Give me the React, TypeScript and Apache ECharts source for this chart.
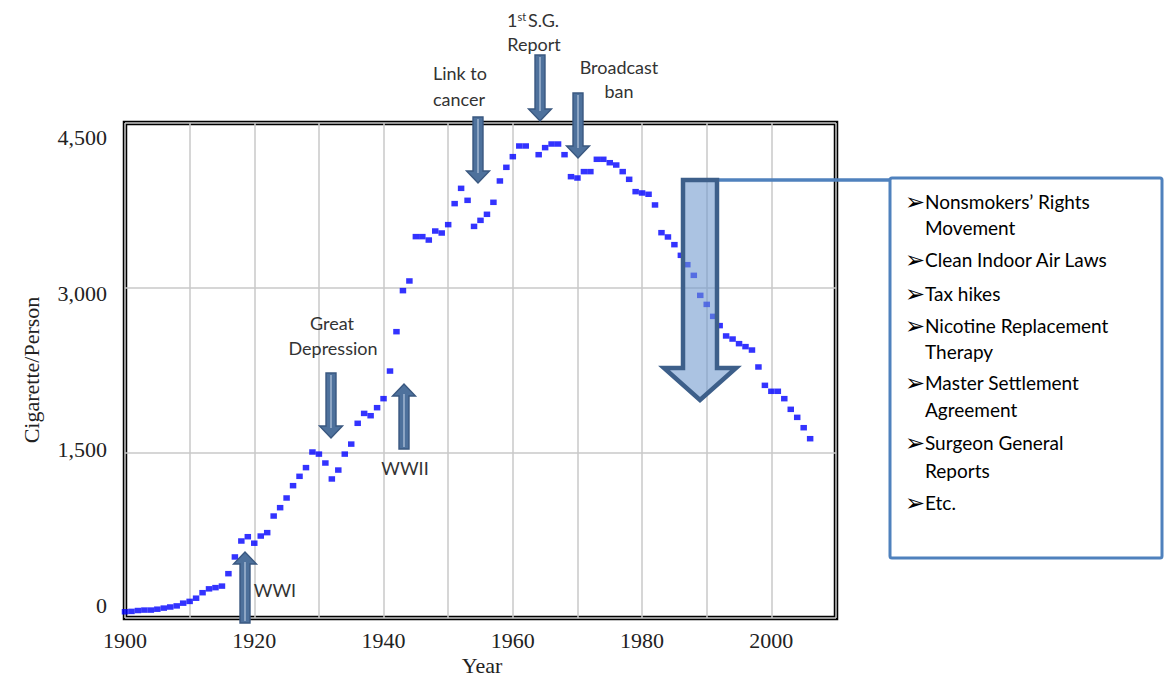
import React, { useEffect, useRef } from "react";
import * as echarts from "echarts";

// ---- data ----
const years: number[] = [
  1900, 1901, 1902, 1903, 1904, 1905, 1906, 1907, 1908, 1909,
  1910, 1911, 1912, 1913, 1914, 1915, 1916, 1917, 1918, 1919,
  1920, 1921, 1922, 1923, 1924, 1925, 1926, 1927, 1928, 1929,
  1930, 1931, 1932, 1933, 1934, 1935, 1936, 1937, 1938, 1939,
  1940, 1941, 1942, 1943, 1944, 1945, 1946, 1947, 1948, 1949,
  1950, 1951, 1952, 1953, 1954, 1955, 1956, 1957, 1958, 1959,
  1960, 1961, 1962, 1964, 1965, 1966, 1967, 1968, 1969,
  1970, 1971, 1972, 1973, 1974, 1975, 1976, 1977, 1978, 1979,
  1980, 1981, 1982, 1983, 1984, 1985, 1986, 1987, 1988, 1989,
  1990, 1991, 1992, 1993, 1994, 1995, 1996, 1997, 1998, 1999,
  2000, 2001, 2002, 2003, 2004, 2005, 2006,
];

const cigarettesPerPerson: number[] = [
  57, 60, 68, 72, 72, 80, 90, 100, 110, 135,
  151, 180, 230, 265, 276, 290, 403, 555, 700, 739,
  680, 745, 776, 927, 1003, 1091, 1203, 1288, 1367, 1509,
  1490, 1409, 1264, 1345, 1490, 1581, 1770, 1860, 1839, 1912,
  1994, 2245, 2603, 2976, 3064, 3467, 3467, 3436, 3518, 3500,
  3576, 3767, 3906, 3797, 3560, 3615, 3670, 3779, 3973, 4097,
  4194, 4291, 4291, 4212, 4276, 4309, 4309, 4212, 4012,
  4000, 4058, 4058, 4170, 4170, 4139, 4118, 4058, 3988, 3876,
  3864, 3852, 3755, 3503, 3464, 3394, 3297, 3212, 3115, 2933,
  2851, 2742, 2658, 2564, 2536, 2494, 2467, 2436, 2282, 2115,
  2061, 2061, 1994, 1897, 1824, 1730, 1630,
];

const xLabelYears: number[] = [1900, 1920, 1940, 1960, 1980, 2000];
const yTickValues: number[] = [0, 1500, 3000, 4500];
const yTickLabels: string[] = ["0", "1,500", "3,000", "4,500"];

const boxItems: string[][] = [
  ["Nonsmokers\u2019 Rights", "Movement"],
  ["Clean Indoor Air Laws"],
  ["Tax hikes"],
  ["Nicotine Replacement", "Therapy"],
  ["Master Settlement", "Agreement"],
  ["Surgeon General", "Reports"],
  ["Etc."],
];

// ---- drawing helpers ----
const SANS = "Lato, 'Open Sans', sans-serif";
const SERIF = "'Liberation Serif', 'DejaVu Serif', serif";

function txt(text: string, x: number, y: number, size: number, color: string, family = SANS, extra: any = {}) {
  return {
    type: "text",
    x,
    y,
    z: 20,
    silent: true,
    ...extra,
    style: {
      text,
      fill: color,
      fontSize: size,
      fontFamily: family,
      align: extra.align || "center",
      textAlign: extra.align || "center",
      verticalAlign: "middle",
      textVerticalAlign: "middle",
      ...(extra.style || {}),
    },
  };
}

function blockArrow(
  cx: number,
  tail: number,
  tip: number,
  shaftW: number,
  headW: number,
  headL: number,
  fill: string,
  stroke: string,
  lw: number,
  inner?: string
) {
  const dir = tip > tail ? 1 : -1;
  const base = tip - dir * headL;
  const pts = [
    [cx - shaftW / 2, tail],
    [cx + shaftW / 2, tail],
    [cx + shaftW / 2, base],
    [cx + headW / 2, base],
    [cx, tip],
    [cx - headW / 2, base],
    [cx - shaftW / 2, base],
  ];
  const els: any[] = [
    {
      type: "polygon",
      z: 15,
      silent: true,
      shape: { points: pts },
      style: { fill, stroke, lineWidth: lw, lineJoin: "miter" },
    },
  ];
  if (inner) {
    els.push({
      type: "line",
      z: 16,
      silent: true,
      shape: { x1: cx, y1: tail + dir * 2, x2: cx, y2: base + dir * 2 },
      style: { stroke: inner, lineWidth: 1.6 },
    });
  }
  return els;
}

const ARROW_FILL = "#4e719c";
const ARROW_STROKE = "#3a5880";
const ARROW_INNER = "#9db3cf";

function smallArrow(cx: number, tail: number, tip: number) {
  return blockArrow(cx, tail, tip, 10, 23, 12, ARROW_FILL, ARROW_STROKE, 1.4, ARROW_INNER);
}

export default function App() {
  const ref = useRef<HTMLDivElement>(null);

  useEffect(() => {
    if (!ref.current) return;
    const chart = echarts.init(ref.current, undefined, { renderer: "svg" });

    const data = years.map((y, i) => [y, cigarettesPerPerson[i]]);

    const graphics: any[] = [];

    // axis titles
    graphics.push(txt("Cigarette/Person", 31, 370, 22, "#222", SERIF, { rotation: Math.PI / 2 }));
    graphics.push(txt("Year", 482, 665, 22, "#222", SERIF));

    // event arrows
    graphics.push(...smallArrow(245, 623, 552));
    graphics.push(...smallArrow(331, 373, 438));
    graphics.push(...smallArrow(404, 449, 384));
    graphics.push(...smallArrow(478, 117, 183));
    graphics.push(...smallArrow(540, 55, 121));
    graphics.push(...smallArrow(578, 93, 158));

    // event labels
    const AC = "#333333";
    graphics.push(txt("WWI", 275, 590, 18, AC));
    graphics.push(txt("Great", 332, 323, 18, AC));
    graphics.push(txt("Depression", 333, 348, 18, AC));
    graphics.push(txt("WWII", 405, 468, 18, AC));
    graphics.push(txt("Link to", 460, 73, 18, AC));
    graphics.push(txt("cancer", 459, 99, 18, AC));
    graphics.push(
      txt("{n|1}{s|st}{n|S.G.}", 533, 20, 18, AC, SANS, {
        style: {
          rich: {
            n: { fontSize: 18, fontFamily: SANS, fill: AC },
            s: { fontSize: 11, fontFamily: SANS, fill: AC, verticalAlign: "top", padding: [0, 2, 0, 0] },
          },
        },
      })
    );
    graphics.push(txt("Report", 534, 44, 18, AC));
    graphics.push(txt("Broadcast", 619, 67, 18, AC));
    graphics.push(txt("ban", 619, 91, 18, AC));

    // connector and box
    graphics.push({
      type: "line",
      z: 14,
      silent: true,
      shape: { x1: 715, y1: 180, x2: 892, y2: 180 },
      style: { stroke: "#4f81bd", lineWidth: 3.5 },
    });
    graphics.push(
      ...blockArrow(700, 180, 400, 34, 72, 32, "rgba(110,152,205,0.58)", "#3d5f8a", 4.5)
    );
    graphics.push({
      type: "rect",
      z: 14,
      silent: true,
      shape: { x: 890, y: 178, width: 272, height: 380, r: 2 },
      style: { fill: "#ffffff", stroke: "#4f81bd", lineWidth: 3 },
    });

    const lineYs = [201, 227, 259, 293, 325, 351, 382, 409, 442, 470, 502];
    let li = 0;
    boxItems.forEach((item) => {
      item.forEach((line, j) => {
        const y = lineYs[li++];
        if (j === 0) {
          graphics.push(
            txt("\u27A2", 905, y + 1, 24, "#000", "'DejaVu Sans', sans-serif", { align: "left" })
          );
        }
        graphics.push(txt(line, 925, y, 19, "#000", SANS, { align: "left" }));
      });
    });

    chart.setOption({
      animation: false,
      backgroundColor: "#ffffff",
      grid: {
        left: 125,
        top: 123,
        width: 711,
        height: 495,
        show: true,
        borderColor: "#000000",
        borderWidth: 4.5,
        backgroundColor: "transparent",
        containLabel: false,
      },
      xAxis: {
        type: "value",
        min: 1900,
        max: 2010,
        interval: 10,
        axisLine: { show: false },
        axisTick: { show: false },
        splitLine: { show: true, lineStyle: { color: "#c8c8c8", width: 1.5 } },
        axisLabel: {
          margin: 11,
          fontFamily: SERIF,
          fontSize: 22,
          color: "#222",
          formatter: (v: number) => (xLabelYears.indexOf(v) >= 0 ? String(v) : ""),
        },
      },
      yAxis: [
        {
          type: "value",
          min: 0,
          max: 4500,
          interval: 1500,
          axisLine: { show: false },
          axisTick: { show: false },
          axisLabel: { show: false },
          splitLine: { show: true, lineStyle: { color: "#c8c8c8", width: 1.5 } },
        },
        {
          type: "value",
          position: "left",
          min: -125,
          max: 4641,
          axisLine: { show: false },
          axisTick: { show: false },
          splitLine: { show: false },
          axisLabel: {
            customValues: yTickValues,
            margin: 18,
            fontFamily: SERIF,
            fontSize: 22,
            color: "#222",
            formatter: (v: number) => {
              const k = yTickValues.indexOf(v);
              return k >= 0 ? yTickLabels[k] : "";
            },
          },
        },
      ],
      series: [
        {
          type: "scatter",
          xAxisIndex: 0,
          yAxisIndex: 0,
          data,
          symbol: "rect",
          symbolSize: [6.5, 5.5],
          itemStyle: { color: "#0000ff" },
          silent: true,
          z: 5,
        },
      ],
      graphic: { elements: graphics },
    });

    return () => chart.dispose();
  }, []);

  return (
    <div
      ref={ref}
      style={{ position: "absolute", left: 0, top: 0, width: 1170, height: 678 }}
    />
  );
}
